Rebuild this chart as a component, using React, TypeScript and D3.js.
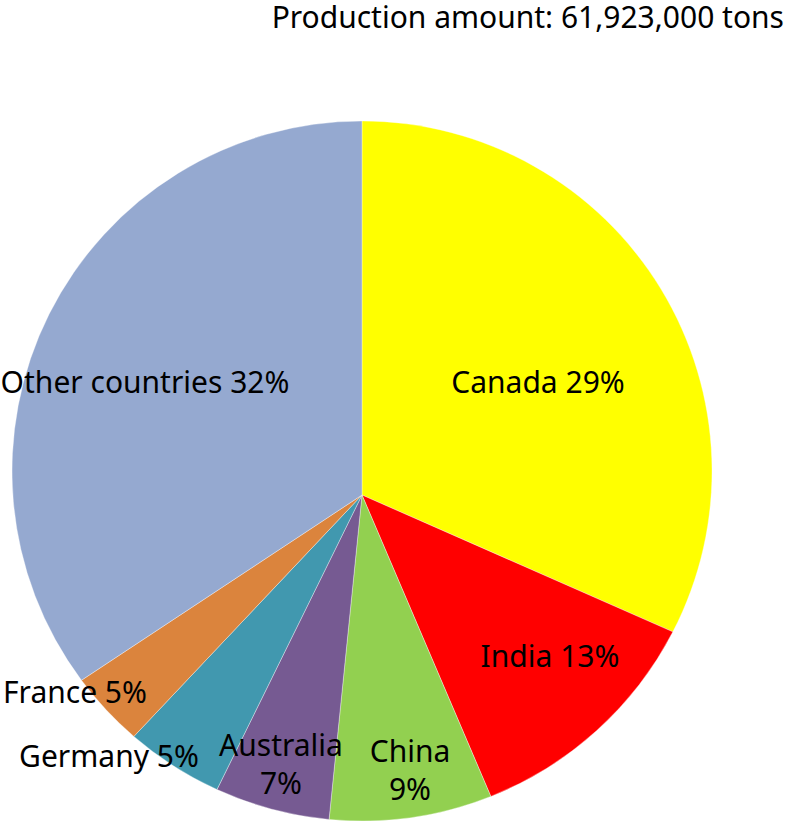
import React from "react";
import * as d3 from "d3";

const countries = ["Canada", "India", "China", "Australia", "Germany", "France", "Other countries"];
const shares = [32.6, 11.4, 7.5, 5.3, 4.5, 3.5, 35.2];
const labelTexts = [["Canada 29%"], ["India 13%"], ["China", "9%"], ["Australia", "7%"], ["Germany 5%"], ["France 5%"], ["Other countries 32%"]];
const colors = ["#FFFF00", "#FF0000", "#92D050", "#765A92", "#4198AF", "#DB843D", "#95A9D0"];
const title = "Production amount: 61,923,000 tons";

const W = 797;
const H = 824;
const cx = 362;
const cy = 471;
const R = 350;
const apexDy = 24;
const FONT = "'Noto Sans', 'Open Sans', sans-serif";

// label anchor positions (text layout)
const labelPos: [number, number][] = [
  [538, 393],
  [550, 667],
  [410, 762],
  [281, 756],
  [109, 767],
  [75, 703],
  [145, 393],
];

export default function App() {
  const pie = d3.pie<number>().sort(null).value((d) => d).startAngle(0).endAngle(2 * Math.PI);
  const arcs = pie(shares);
  const paths = arcs.map((a) => {
    const t0 = a.startAngle - Math.PI / 2;
    const t1 = a.endAngle - Math.PI / 2;
    const p = d3.path();
    p.moveTo(cx, cy + apexDy);
    p.lineTo(cx + R * Math.cos(t0), cy + R * Math.sin(t0));
    p.arc(cx, cy, R, t0, t1, false);
    p.closePath();
    return p.toString();
  });
  return (
    <svg width={W} height={H} style={{ position: "absolute", left: 0, top: 0 }} fontFamily={FONT}>
      <rect width={W} height={H} fill="#fff" />
      {paths.map((d, i) => (
        <path key={countries[i]} d={d} fill={colors[i]} stroke="#ffffff" strokeOpacity={0.35} strokeWidth={1} />
      ))}
      {labelTexts.map((lines, i) => (
        <text key={"l" + i} x={labelPos[i][0]} y={labelPos[i][1]} textAnchor="middle" fontSize={30} fill="#000">
          {lines.map((ln, j) => (
            <tspan key={j} x={labelPos[i][0]} dy={j === 0 ? 0 : 38}>
              {ln}
            </tspan>
          ))}
        </text>
      ))}
      <text x={784} y={28} textAnchor="end" fontSize={30} fill="#000">
        {title}
      </text>
    </svg>
  );
}
